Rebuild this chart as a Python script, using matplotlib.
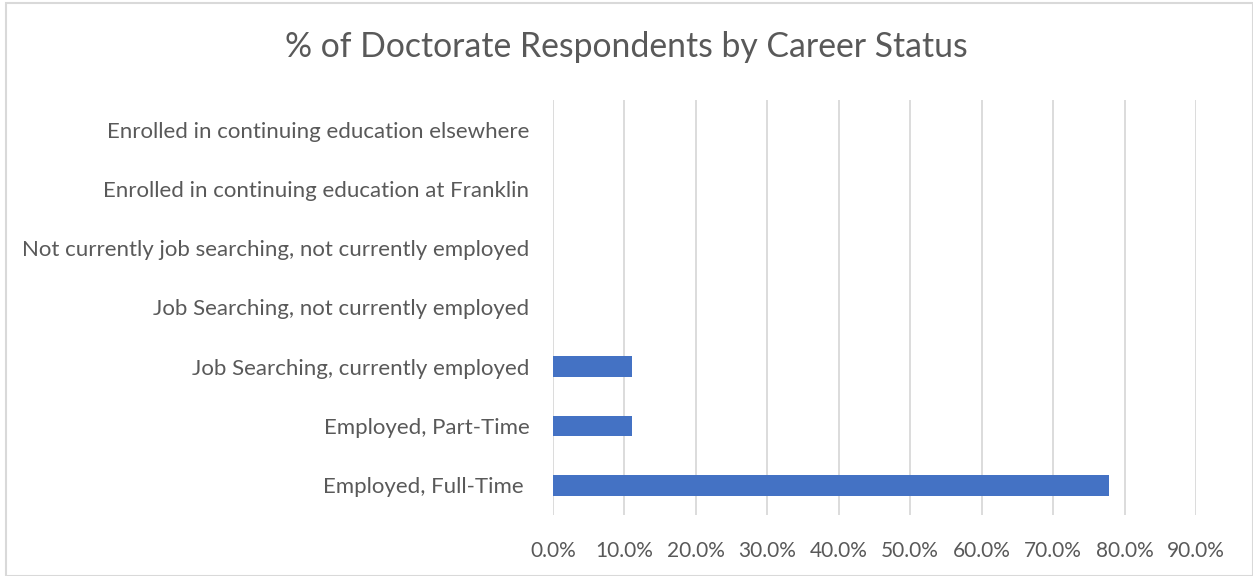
import matplotlib.pyplot as plt
import matplotlib.ticker as ticker
from matplotlib.patches import Rectangle

plt.rcParams['font.family'] = ['Lato', 'DejaVu Sans']

categories = [
    'Employed, Full-Time ',
    'Employed, Part-Time',
    'Job Searching, currently employed',
    'Job Searching, not currently employed',
    'Not currently job searching, not currently employed',
    'Enrolled in continuing education at Franklin',
    'Enrolled in continuing education elsewhere',
]
values = [77.8, 11.1, 11.1, 0, 0, 0, 0]
xticks = [0, 10, 20, 30, 40, 50, 60, 70, 80, 90]

text_color = '#595959'
grid_color = '#d9d9d9'
bar_color = '#4472c4'


def main():
    fig = plt.figure(figsize=(12.53, 5.76), dpi=100)
    ax = fig.add_axes([0.4413, 0.1059, 0.5132, 0.7205])

    ax.barh(range(len(categories)), values, height=0.35, color=bar_color)

    ax.set_xlim(0, 90)
    ax.set_ylim(-0.5, len(categories) - 0.5)
    ax.set_xticks(xticks)
    ax.xaxis.set_major_formatter(ticker.FuncFormatter(lambda v, p: f'{v:.1f}%'))
    ax.set_yticks(range(len(categories)))
    ax.set_yticklabels(categories)

    ax.grid(axis='x', color=grid_color, lw=1.3)
    ax.set_axisbelow(True)
    for s in ax.spines.values():
        s.set_visible(False)
    ax.tick_params(axis='both', length=0, colors=text_color)
    ax.tick_params(axis='y', pad=17, labelsize=16)
    ax.tick_params(axis='x', pad=19, labelsize=15)

    fig.text(0.5, 0.918, '% of Doctorate Respondents by Career Status',
             ha='center', va='center', fontsize=24.3, color=text_color)

    # chart border
    fig.patches.append(Rectangle((0.005, 0.0), 0.995, 0.995, transform=fig.transFigure,
                                 fill=False, edgecolor=grid_color, lw=1.5))

    fig.savefig('out.png', dpi=100)


if __name__ == "__main__":
    main()
